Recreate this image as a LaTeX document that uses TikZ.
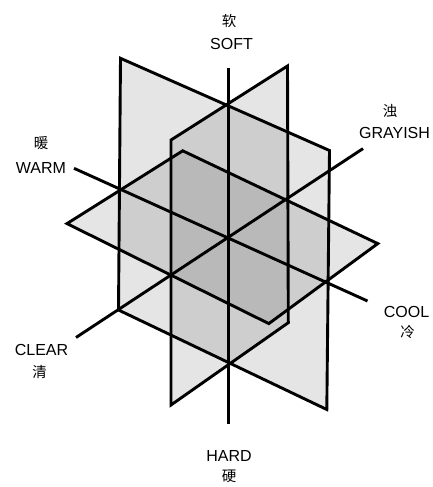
\documentclass[tikz,border=0pt]{standalone}
\usepackage{fontspec}
\newfontfamily\latinfont{Liberation Sans}
\newfontfamily\cjkfont{Noto Sans CJK SC}
\begin{document}
\begin{tikzpicture}[x=1pt,y=-1pt,
  plane/.style={fill=black,fill opacity=0.1,draw=none},
  edge/.style={draw=black,line width=2.9pt,line join=miter},
  en/.style={font=\latinfont\fontsize{16}{18}\selectfont,inner sep=0pt},
  zh/.style={font=\cjkfont\fontsize{14.5}{16}\selectfont,inner sep=0pt}]
\useasboundingbox (0,0) rectangle (433,487);
% plane A (warm-cool, vertical)
\coordinate (A1) at (120.5,58.3);
\coordinate (A2) at (329.5,150.5);
\coordinate (A3) at (326.8,409.5);
\coordinate (A4) at (118.5,310);
% plane B (clear-grayish, vertical)
\coordinate (B1) at (287.5,66);
\coordinate (B2) at (171,140);
\coordinate (B3) at (171,405);
\coordinate (B4) at (288.3,322.7);
% plane H (horizontal)
\coordinate (H1) at (67,223.6);
\coordinate (H2) at (182.7,150.8);
\coordinate (H3) at (377.8,243.6);
\coordinate (H4) at (268.8,323.6);
% axes ends
\coordinate (S) at (228.3,68);
\coordinate (Hd) at (228.3,424);
\coordinate (W) at (74,168.3);
\coordinate (Co) at (367.5,301);
\coordinate (G) at (363,148.6);
\coordinate (Cl) at (76,337.5);
% fills
\fill[plane] (A1) -- (A2) -- (A3) -- (A4) -- cycle;
\fill[plane] (B1) -- (B2) -- (B3) -- (B4) -- cycle;
\fill[plane] (H1) -- (H2) -- (H3) -- (H4) -- cycle;
% edges
\draw[edge] (A1) -- (A2) -- (A3) -- (A4) -- cycle;
\draw[edge] (B1) -- (B2) -- (B3) -- (B4) -- cycle;
\draw[edge] (H1) -- (H2) -- (H3) -- (H4) -- cycle;
% axes
\draw[edge] (S) -- (Hd);
\draw[edge] (W) -- (Co);
\draw[edge] (G) -- (Cl);
% labels
\node[zh] (softzh) at (229,20.5) {软};
\node[en] (soft) at (231.5,43.5) {SOFT};
\node[en] (hard) at (229,455.5) {HARD};
\node[zh] (hardzh) at (229,476) {硬};
\node[zh] (grayzh) at (390,111) {浊};
\node[en] (gray) at (394.5,132.5) {GRAYISH};
\node[zh] (warmzh) at (41,143.5) {暖};
\node[en] (warm) at (41,167.5) {WARM};
\node[en] (cool) at (406.5,311.5) {COOL};
\node[zh] (coolzh) at (407.5,332) {冷};
\node[en] (clear) at (41.5,350) {CLEAR};
\node[zh] (clearzh) at (39.5,372) {清};
\end{tikzpicture}
\end{document}
